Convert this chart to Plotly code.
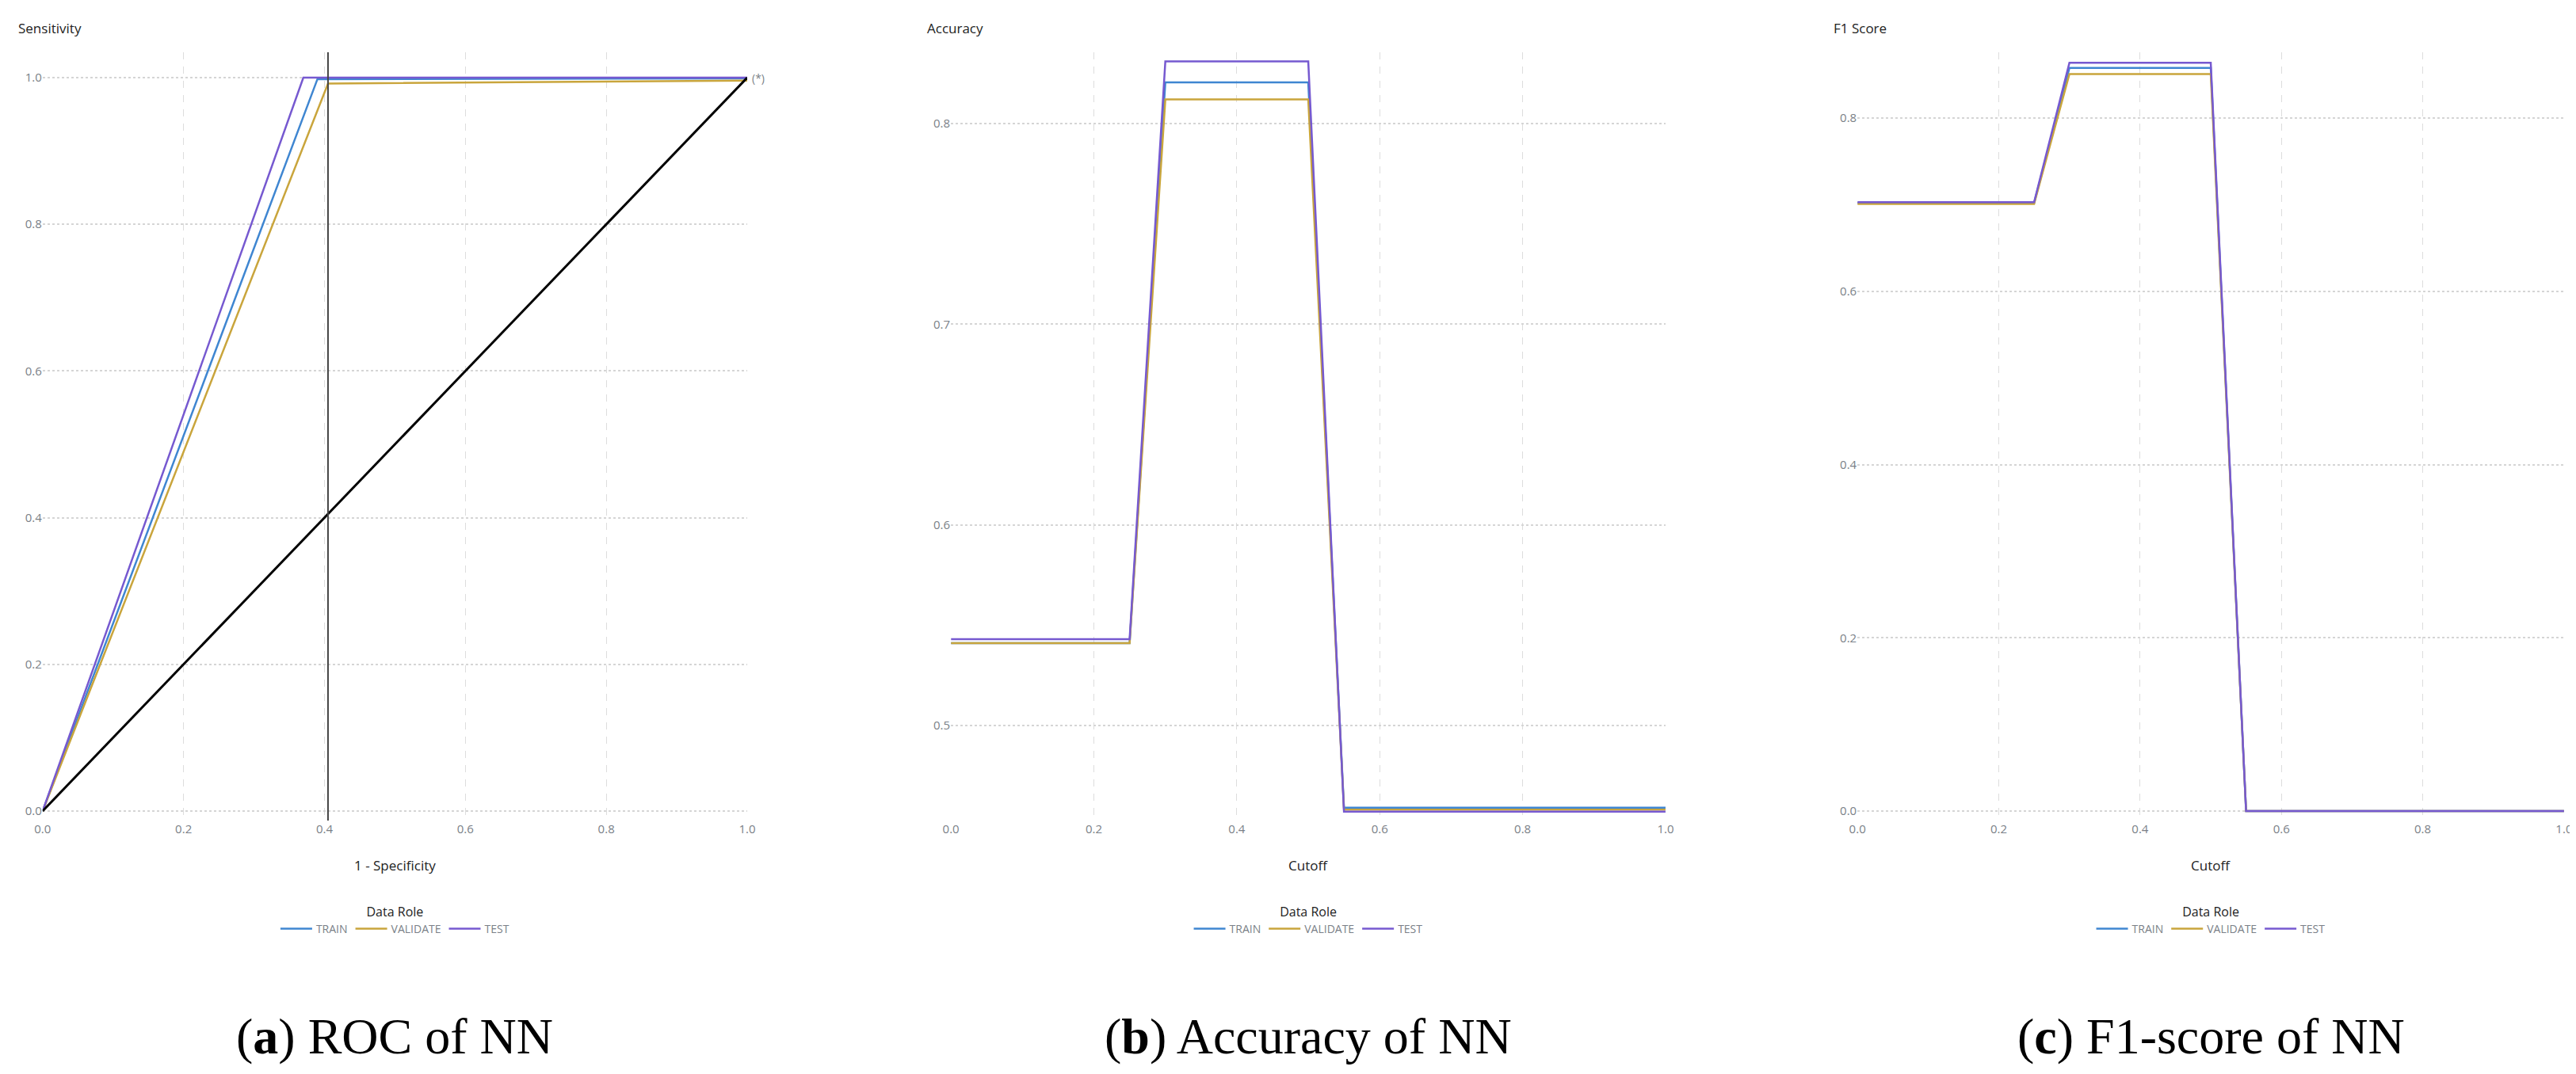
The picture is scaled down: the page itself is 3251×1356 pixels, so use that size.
import plotly.graph_objects as go

W, H = 3251, 1356
roles = ["TRAIN", "VALIDATE", "TEST"]
colors = {"TRAIN": "#3f86d1", "VALIDATE": "#c9a53c", "TEST": "#7659d0"}

# ROC
roc_x = {"TRAIN": [0.0, 0.39, 1.0], "VALIDATE": [0.0, 0.405, 1.0], "TEST": [0.0, 0.37, 1.0]}
roc_y = {"TRAIN": [0.0, 0.998, 0.999], "VALIDATE": [0.0, 0.992, 0.996], "TEST": [0.0, 1.0, 1.0]}
diag_x = [0.0, 1.0]
diag_y = [0.0, 1.0]
ks_cutoff = 0.405

cutoff = [0.0, 0.05, 0.1, 0.15, 0.2, 0.25, 0.3, 0.35, 0.4, 0.45, 0.5, 0.55, 0.6, 0.65, 0.7, 0.75, 0.8, 0.85, 0.9, 0.95, 1.0]
acc = {
    "TRAIN": [0.541]*6 + [0.8205]*5 + [0.459]*10,
    "VALIDATE": [0.541]*6 + [0.812]*5 + [0.458]*10,
    "TEST": [0.543]*6 + [0.831]*5 + [0.457]*10,
}
f1 = {
    "TRAIN": [0.702]*6 + [0.858]*5 + [0.0]*10,
    "VALIDATE": [0.701]*6 + [0.851]*5 + [0.0]*10,
    "TEST": [0.703]*6 + [0.864]*5 + [0.0]*10,
}

panels = [
    dict(xd=[0.0141, 0.2876], yr=[-0.013, 1.0346], yt=[0, 0.2, 0.4, 0.6, 0.8, 1.0], ytitle="Sensitivity",
         xtitle="1 - Specificity", cap="(<b>a</b>) ROC of NN"),
    dict(xd=[0.3667, 0.6441], yr=[0.4526, 0.8355], yt=[0.5, 0.6, 0.7, 0.8], ytitle="Accuracy",
         xtitle="Cutoff", cap="(<b>b</b>) Accuracy of NN"),
    dict(xd=[0.7186, 0.9929], yr=[-0.011, 0.876], yt=[0, 0.2, 0.4, 0.6, 0.8], ytitle="F1 Score",
         xtitle="Cutoff", cap="(<b>c</b>) F1-score of NN"),
]
yd = [0.2419, 0.9572]
tickfont = dict(family="Open Sans", size=15, color="#7a7f87")
titlefont = dict(family="Open Sans", size=17, color="#222")

fig = go.Figure()
for i, p in enumerate(panels):
    n = "" if i == 0 else str(i + 1)
    lg = "legend" if i == 0 else "legend" + str(i + 1)
    for r in roles:
        if i == 0:
            xs, ys = roc_x[r], roc_y[r]
        else:
            xs, ys = cutoff, (acc if i == 1 else f1)[r]
        fig.add_trace(go.Scatter(x=xs, y=ys, mode="lines", name=r, xaxis="x" + n, yaxis="y" + n,
                                 line=dict(color=colors[r], width=2.5), legend=lg, cliponaxis=False))
    if i == 0:
        fig.add_trace(go.Scatter(x=diag_x, y=diag_y, mode="lines", line=dict(color="black", width=3),
                                 showlegend=False, xaxis="x", yaxis="y"))
        fig.add_trace(go.Scatter(x=[ks_cutoff, ks_cutoff], y=[-0.013, 1.0346], mode="lines",
                                 line=dict(color="#444", width=2), showlegend=False, xaxis="x", yaxis="y"))
    fig.layout["xaxis" + n] = dict(domain=p["xd"], anchor="y" + n, range=[0, 1.0], automargin=False,
                                   tickvals=[0, 0.2, 0.4, 0.6, 0.8, 1.0], ticktext=["0.0", "0.2", "0.4", "0.6", "0.8", "1.0"],
                                   showgrid=True, gridcolor="#dddddd", griddash="dash", gridwidth=1,
                                   zeroline=False, showline=False, tickfont=tickfont, ticks="", ticklen=10)
    fig.layout["yaxis" + n] = dict(domain=yd, anchor="x" + n, range=p["yr"], tickvals=p["yt"], automargin=False,
                                   ticktext=["%.1f" % v for v in p["yt"]],
                                   showgrid=True, gridcolor="#d5d5d5", griddash="dot", gridwidth=2,
                                   zeroline=False, showline=False, tickfont=tickfont, ticks="")
    xc = (p["xd"][0] + p["xd"][1]) / 2
    fig.add_annotation(xref="paper", yref="paper", x=p["xd"][0] - 0.01, y=1 - 28 / H, text=p["ytitle"],
                       showarrow=False, xanchor="left", yanchor="middle", font=titlefont)
    fig.add_annotation(xref="paper", yref="paper", x=xc, y=1 - 1084 / H, text=p["xtitle"],
                       showarrow=False, xanchor="center", yanchor="middle", font=titlefont)
    fig.add_annotation(xref="paper", yref="paper", x=xc, y=1 - 1300 / H, text=p["cap"],
                       showarrow=False, xanchor="center", yanchor="middle",
                       font=dict(family="Liberation Serif", size=64, color="black"))
    fig.layout[lg] = dict(orientation="h", x=xc, xanchor="center", y=1 - 1128 / H, yanchor="top",
                          title=dict(text="Data Role", side="top center", font=dict(family="Open Sans", size=16, color="#222")),
                          font=dict(family="Open Sans", size=14, color="#7a7f87"), itemwidth=40,
                          bgcolor="rgba(0,0,0,0)", tracegroupgap=0)

fig.add_annotation(x=ks_cutoff, y=1.035, xref="x", yref="y", text="KS Cutoff", showarrow=False,
                   xanchor="right", yanchor="top", font=dict(family="Open Sans", size=14, color="#7a7f87"))
fig.add_annotation(x=1.0, y=1.0, xref="x", yref="y", text="(*)", showarrow=False, xanchor="left", xshift=4,
                   font=dict(family="Open Sans", size=14, color="#7a7f87"))

fig.update_layout(width=W, height=H, margin=dict(l=0, r=0, t=0, b=0, autoexpand=False), plot_bgcolor="white",
                  paper_bgcolor="white", showlegend=True)
fig.write_html("out.html")
